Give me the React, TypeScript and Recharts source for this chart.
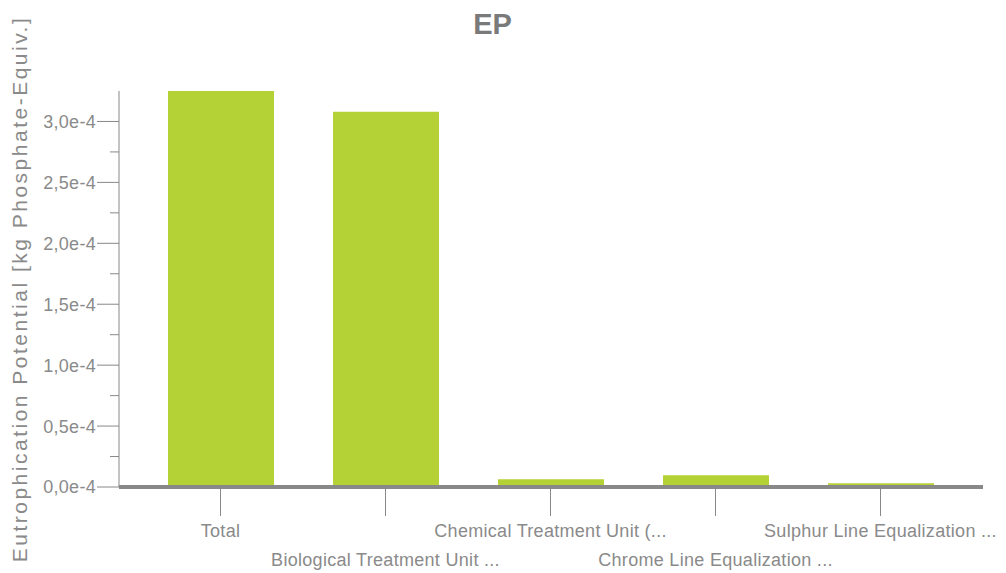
import React from 'react';
import { BarChart, Bar, XAxis, YAxis } from 'recharts';

// Eutrophication potential per process unit
const categories = [
  'Total',
  'Biological Treatment Unit ...',
  'Chemical Treatment Unit (...',
  'Chrome Line Equalization ...',
  'Sulphur Line Equalization ...',
];
const epValues = [3.25e-4, 3.08e-4, 0.063e-4, 0.096e-4, 0.03e-4];

// Labelled ticks and the short unlabelled ticks between them
const majorTicks = [0, 0.5e-4, 1.0e-4, 1.5e-4, 2.0e-4, 2.5e-4, 3.0e-4];
const minorTicks = [0.25e-4, 0.75e-4, 1.25e-4, 1.75e-4, 2.25e-4, 2.75e-4];

const chartTitle = 'EP';
const yAxisTitle = 'Eutrophication Potential [kg Phosphate-Equiv.]';

const data = categories.map((name, i) => ({ name, value: epValues[i] }));
const allTicks = [...majorTicks, ...minorTicks].sort((a, b) => a - b);

const TEXT = '#8a8a8a';
const AXIS = '#888888';
const BAR = '#b4d235';
const FONT = '"Liberation Sans", Arial, sans-serif';

const formatTick = (v: number) => (v * 1e4).toFixed(1).replace('.', ',') + 'e-4';
const isMajor = (v: number) => majorTicks.some((t) => Math.abs(t - v) < 1e-12);

const YTick = (props: any) => {
  const { x, y, payload } = props;
  const major = isMajor(payload.value);
  return (
    <g>
      <line x1={x - (major ? 22 : 9)} x2={x} y1={y} y2={y} stroke={AXIS} strokeWidth={1} />
      {major && (
        <text
          x={x - 23}
          y={y}
          dy="0.36em"
          textAnchor="end"
          fill={TEXT}
          fontSize={18}
          fontFamily={FONT}
          letterSpacing={0.3}
        >
          {formatTick(payload.value)}
        </text>
      )}
    </g>
  );
};

const XTick = (props: any) => {
  const { x, y, payload, index } = props;
  // labels alternate between two rows so the long names do not collide
  const rowOffset = index % 2 === 0 ? 50 : 79;
  return (
    <g>
      <line x1={x} x2={x} y1={y + 2} y2={y + 29} stroke={AXIS} strokeWidth={1} />
      <text
        x={x}
        y={y + rowOffset}
        textAnchor="middle"
        fill={TEXT}
        fontSize={18}
        fontFamily={FONT}
        letterSpacing={0.3}
      >
        {payload.value}
      </text>
    </g>
  );
};

const YTitle = (props: any) => {
  const vb = props.viewBox;
  const cy = vb.y + vb.height / 2;
  const cx = 27;
  return (
    <text
      x={cx}
      y={cy}
      transform={`rotate(-90, ${cx}, ${cy})`}
      textAnchor="middle"
      fill={TEXT}
      fontSize={21}
      fontFamily={FONT}
      letterSpacing={2.5}
    >
      {yAxisTitle}
    </text>
  );
};

export default function App() {
  return (
    <div style={{ position: 'absolute', left: 0, top: 0, width: 1006, height: 573, background: '#fff' }}>
      <div
        style={{
          position: 'absolute',
          left: 0,
          top: 10,
          width: 985,
          textAlign: 'center',
          fontFamily: FONT,
          fontWeight: 'bold',
          fontSize: 29,
          lineHeight: '29px',
          color: '#7a7a7a',
        }}
      >
        {chartTitle}
      </div>
      <BarChart
        width={1006}
        height={573}
        data={data}
        margin={{ top: 91, right: 23, bottom: 6, left: 0 }}
      >
        <XAxis
          dataKey="name"
          height={80}
          padding={{ left: 19, right: 20 }}
          axisLine={{ stroke: AXIS, strokeWidth: 4 }}
          tickLine={false}
          tickSize={0}
          tickMargin={0}
          interval={0}
          tick={<XTick />}
        />
        <YAxis
          width={119}
          domain={[0, 3.25e-4]}
          ticks={allTicks}
          interval={0}
          axisLine={{ stroke: AXIS, strokeWidth: 1 }}
          tickLine={false}
          tickSize={0}
          tickMargin={0}
          tick={<YTick />}
          label={<YTitle />}
        />
        <Bar dataKey="value" fill={BAR} barSize={106} isAnimationActive={false} />
      </BarChart>
    </div>
  );
}
